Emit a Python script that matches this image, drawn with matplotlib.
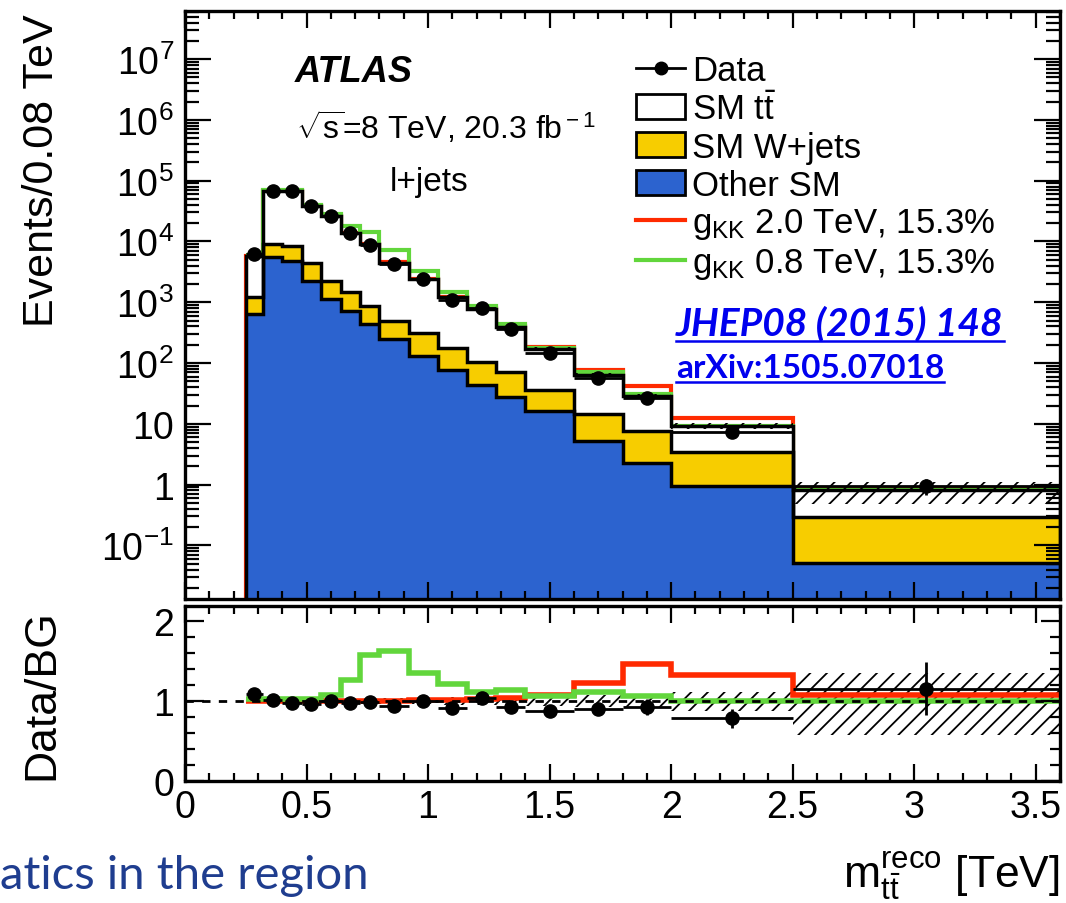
import numpy as np
import matplotlib
matplotlib.use("Agg")
import matplotlib.pyplot as plt
from matplotlib.patches import Patch
from matplotlib.lines import Line2D
from matplotlib.ticker import FixedLocator, LogLocator, MultipleLocator, NullFormatter

plt.rcParams['font.family'] = ['Liberation Sans', 'DejaVu Sans']
plt.rcParams['mathtext.fontset'] = 'custom'
plt.rcParams['mathtext.rm'] = 'Liberation Sans'
plt.rcParams['mathtext.it'] = 'Liberation Sans:italic'
plt.rcParams['mathtext.bf'] = 'Liberation Sans:bold'
plt.rcParams['hatch.linewidth'] = 1.3
plt.rcParams['hatch.color'] = 'black'

# bin edges in TeV
edges = np.array([0.25, 0.32, 0.40, 0.48, 0.56, 0.64, 0.72, 0.80, 0.92, 1.04,
                  1.16, 1.28, 1.40, 1.60, 1.80, 2.00, 2.50, 3.60])

# events / 0.08 TeV
other_sm = np.array([640, 5500, 4800, 2260, 1120, 730, 440, 245, 130, 77,
                     44, 28, 16, 5.3, 2.3, 0.94, 0.052])
wjets = np.array([560, 3500, 3700, 2240, 1140, 720, 430, 255, 185, 98,
                  61, 44, 20, 9.2, 5.4, 2.46, 0.24])
ttbar = np.array([4600, 59000, 59500, 34500, 24200, 12550, 8130, 4000, 2085, 1025,
                  675, 318, 134, 48.5, 21.3, 5.9, 0.53])
data = np.array([6300, 69000, 66500, 37800, 26500, 13700, 8900, 4230, 2400, 1100,
                 810, 363, 149, 57, 26.7, 7.3, 0.95])
data_err = np.array([80, 260, 260, 200, 160, 115, 95, 60, 45, 30,
                     25, 17, 8.5, 4.7, 2.9, 1.1, 0.27])
# signal yields on top of the SM
sig_2000 = np.array([10, 80, 80, 60, 50, 30, 25, 20, 20, 12,
                     20, 16, 14, 14.5, 13.3, 3.0, 0.06])
sig_800 = np.array([116, 1360, 1360, 1170, 2120, 3780, 5220, 2835, 840, 252,
                    86, 55, 10, 6.9, 1.7, 0.01, 0.001])
# relative background uncertainty (up / down)
unc_up = np.array([0.03, 0.03, 0.03, 0.03, 0.03, 0.03, 0.035, 0.04, 0.04, 0.05,
                   0.05, 0.06, 0.06, 0.07, 0.08, 0.12, 0.35])
unc_dn = np.array([0.03, 0.03, 0.03, 0.03, 0.03, 0.03, 0.035, 0.04, 0.04, 0.05,
                   0.05, 0.06, 0.06, 0.07, 0.08, 0.12, 0.42])

xticks = [0, 0.5, 1, 1.5, 2, 2.5, 3, 3.5]
xticklabels = ['0', '0.5', '1', '1.5', '2', '2.5', '3', '3.5']
ydecades = [1e-1, 1, 10, 1e2, 1e3, 1e4, 1e5, 1e6, 1e7]
ydecade_labels = ['$10^{-1}$', '1', '10', '$10^{2}$', '$10^{3}$', '$10^{4}$',
                  '$10^{5}$', '$10^{6}$', '$10^{7}$']

blue = '#2c63cf'
yellow = '#f7cd00'
red = '#ff2a00'
green = '#62d63c'

centers = 0.5 * (edges[1:] + edges[:-1])
halfw = 0.5 * (edges[1:] - edges[:-1])
lvl1 = other_sm
lvl2 = other_sm + wjets
total = lvl2 + ttbar

fig = plt.figure(figsize=(10.66, 9.04), dpi=100)
ax = fig.add_axes([0.17355, 0.33628, 0.82083, 0.65044])
rax = fig.add_axes([0.17355, 0.13496, 0.82083, 0.19358])

# ---- main panel
floor = 1e-4
ax.stairs(total + sig_2000, edges, baseline=floor, color=red, lw=3)
ax.stairs(total + sig_800, edges, baseline=None, color=green, lw=3)
ax.stairs(lvl1, edges, baseline=floor, fill=True, color=blue)
ax.stairs(lvl2, edges, baseline=lvl1, fill=True, color=yellow)
ax.stairs(total, edges, baseline=lvl2, fill=True, color='white')
ax.stairs(total * (1 + unc_up), edges, baseline=total * (1 - unc_dn), fill=True,
          facecolor='none', edgecolor='k', hatch='//', lw=0)
ax.stairs(lvl1, edges, baseline=None, color='k', lw=2.5)
ax.stairs(lvl2, edges, baseline=None, color='k', lw=2.5)
ax.stairs(total, edges, baseline=floor, color='k', lw=2.5)
ax.errorbar(centers, data, xerr=halfw, yerr=data_err, fmt='o', color='k',
            ms=9.5, lw=2, capsize=0, zorder=5)

ax.set_yscale('log')
ax.set_xlim(0, 3.6)
ax.set_ylim(0.0131, 6.2e7)
ax.yaxis.set_major_locator(FixedLocator(ydecades))
ax.set_yticklabels(ydecade_labels)
ax.yaxis.set_minor_locator(LogLocator(base=10, subs=np.arange(2, 10) * 1.0, numticks=100))
ax.yaxis.set_minor_formatter(NullFormatter())
ax.xaxis.set_major_locator(FixedLocator(xticks))
ax.xaxis.set_minor_locator(MultipleLocator(0.1))
ax.tick_params(axis='x', labelbottom=False)
ax.tick_params(which='both', direction='in', top=True, right=True, width=1.6)
ax.tick_params(axis='y', which='major', length=19, labelsize=27, pad=8)
ax.tick_params(axis='y', which='minor', length=10)
ax.tick_params(axis='x', which='major', length=12)
ax.tick_params(axis='x', which='minor', length=6)

handles = [
    Line2D([0], [0], color='k', marker='o', ms=9, lw=2),
    Patch(facecolor='white', edgecolor='k', lw=2),
    Patch(facecolor=yellow, edgecolor='k', lw=2),
    Patch(facecolor=blue, edgecolor='k', lw=2),
    Line2D([0], [0], color=red, lw=3),
    Line2D([0], [0], color=green, lw=3),
]
labels = ['Data', r'SM t$\bar{\rm t}$', 'SM W+jets', 'Other SM',
          r'g$_{\rm KK}$ 2.0 TeV, 15.3%', r'g$_{\rm KK}$ 0.8 TeV, 15.3%']
ax.legend(handles, labels, loc='upper left', bbox_to_anchor=(0.5, 0.95),
          frameon=False, fontsize=25, handlelength=1.4, handleheight=0.75,
          handletextpad=0.2, labelspacing=0.14, borderaxespad=0)

fig.text(295 / 1066, 1 - 72 / 904, 'ATLAS', fontsize=26, fontweight='bold',
         style='italic', va='center')
fig.text(296 / 1066, 1 - 128 / 904, r'$\sqrt{\rm s}$=8 TeV, 20.3 fb$^{\rm -1}$',
         fontsize=23, va='center')
fig.text(390 / 1066, 1 - 183 / 904, 'l+jets', fontsize=24, va='center')

link_font = ['Lato', 'Liberation Sans', 'DejaVu Sans']
t1 = fig.text(676 / 1066, 1 - 336 / 904, 'JHEP08 (2015) 148', fontsize=28,
              fontweight='bold', style='italic', color='#0000ee', va='baseline',
              family=link_font)
t2 = fig.text(676 / 1066, 1 - 378 / 904, 'arXiv:1505.07018', fontsize=24,
              fontweight='bold', color='#0000ee', va='baseline', family=link_font)

# ---- ratio panel
rax.stairs(1 + unc_up, edges, baseline=1 - unc_dn, fill=True, facecolor='none',
           edgecolor='k', hatch='//', lw=0)
rax.axhline(1, color='k', lw=2, ls=(0, (3, 3)))
rax.stairs((total + sig_2000) / total, edges, baseline=None, color=red, lw=4)
rax.stairs((total + sig_800) / total, edges, baseline=None, color=green, lw=4)
rax.errorbar(centers, data / total, xerr=halfw, yerr=data_err / total, fmt='o',
             color='k', ms=9.5, lw=2, capsize=0, zorder=5)
rax.set_xlim(0, 3.6)
rax.set_ylim(0, 2.19)
rax.yaxis.set_major_locator(FixedLocator([0, 1, 2]))
rax.yaxis.set_minor_locator(MultipleLocator(0.2))
rax.xaxis.set_major_locator(FixedLocator(xticks))
rax.set_xticklabels(xticklabels)
rax.xaxis.set_minor_locator(MultipleLocator(0.1))
rax.tick_params(which='both', direction='in', top=True, right=True, width=1.6)
rax.tick_params(axis='y', which='major', length=14, labelsize=27, pad=8)
rax.tick_params(axis='y', which='minor', length=7)
rax.tick_params(axis='x', which='major', length=12, labelsize=27, pad=6)
rax.tick_params(axis='x', which='minor', length=6)

for a in (ax, rax):
    for s in a.spines.values():
        s.set_linewidth(2.4)

fig.text(42 / 1066, 1 - 14 / 904, 'Events/0.08 TeV', rotation=90, fontsize=31,
         ha='center', va='top')
fig.text(42 / 1066, 1 - 695 / 904, 'Data/BG', rotation=90, fontsize=32,
         ha='center', va='center')
fig.text(1060 / 1066, 1 - 876 / 904, r'm$_{\rm t\bar{t}}^{\rm reco}$ [TeV]',
         fontsize=32, ha='right', va='center')
fig.text(0, 1 - 876 / 904, 'atics in the region', fontsize=34, color='#1f3d8f',
         ha='left', va='center', family=['Lato', 'Open Sans', 'DejaVu Sans'])

# underline the reference links
fig.canvas.draw()
for t, dy in ((t1, 6), (t2, 5)):
    bb = t.get_window_extent()
    yb = t.get_position()[1] * fig.bbox.height - dy
    fig.add_artist(Line2D([bb.x0 / fig.bbox.width, bb.x1 / fig.bbox.width],
                          [yb / fig.bbox.height] * 2, color='#0000ee', lw=1.8,
                          transform=fig.transFigure))

fig.savefig('out.png', dpi=100)
